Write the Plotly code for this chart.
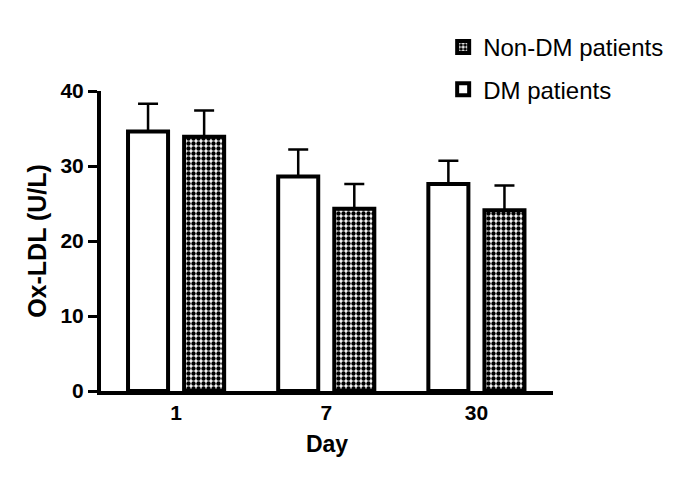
import plotly.graph_objects as go

days = ["1", "7", "30"]
dm_mean = [34.6, 28.6, 27.6]
dm_err = [3.7, 3.6, 3.1]
nondm_mean = [33.9, 24.3, 24.1]
nondm_err = [3.5, 3.3, 3.3]

fig = go.Figure()
fig.add_trace(go.Bar(
    x=days, y=dm_mean, name="DM patients", legendgroup="dm", legendrank=2,
    marker=dict(color="white", line=dict(color="black", width=4)),
    error_y=dict(type="data", array=dm_err, arrayminus=[0]*3, symmetric=False,
                 color="black", thickness=2.5, width=10),
))
fig.add_trace(go.Bar(
    x=days, y=nondm_mean, name="Non-DM patients", legendgroup="nondm", legendrank=1,
    marker=dict(color="white", line=dict(color="black", width=4),
                pattern=dict(shape=".", fgcolor="black", bgcolor="white", size=5,
                             solidity=0.6, fgopacity=1)),
    error_y=dict(type="data", array=nondm_err, arrayminus=[0]*3, symmetric=False,
                 color="black", thickness=2.5, width=10),
))

fig.update_layout(
    width=677, height=470,
    margin=dict(l=93, r=132, t=83, b=87),
    plot_bgcolor="white", paper_bgcolor="white",
    barmode="group", bargap=0.253, bargroupgap=0.286,
    font=dict(family="Liberation Sans, Arial", color="black"),
    showlegend=True,
    legend=dict(x=0.757, y=1.22, xanchor="left", yanchor="top",
                traceorder="grouped", tracegroupgap=8,
                font=dict(size=24), bgcolor="rgba(0,0,0,0)"),
    xaxis=dict(range=[-0.5, 2.51], showline=True, linecolor="black", linewidth=4,
               ticks="", tickfont=dict(size=21, weight="bold"),
               title=dict(text="Day", font=dict(size=23, weight="bold"), standoff=14),
               showgrid=False, zeroline=False),
    yaxis=dict(range=[0, 40], showline=True, linecolor="black", linewidth=4,
               ticks="outside", ticklen=9, tickwidth=3, tickcolor="black",
               tickvals=[0, 10, 20, 30, 40], tickfont=dict(size=21, weight="bold"),
               title=dict(text="Ox-LDL (U/L)", font=dict(size=25, weight="bold"), standoff=8),
               showgrid=False, zeroline=False),
)

fig.write_html("out.html")
